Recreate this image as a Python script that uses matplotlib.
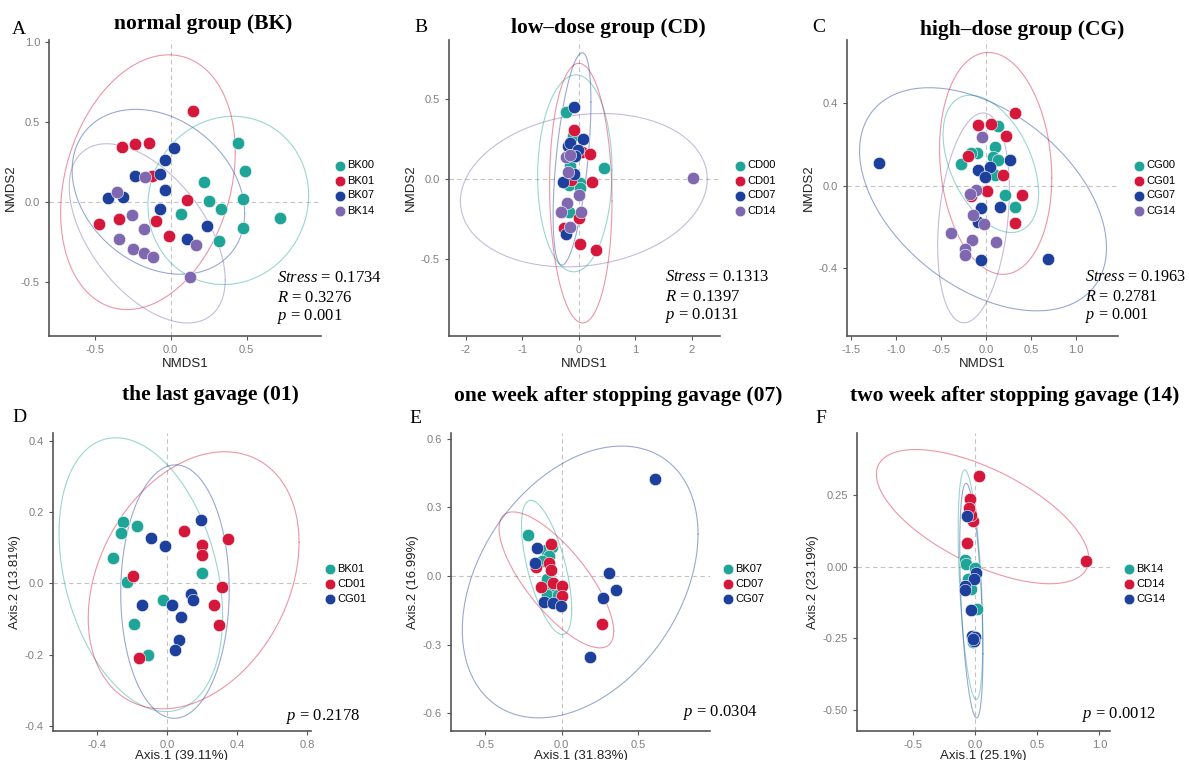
import numpy as np
import matplotlib
matplotlib.use("Agg")
import matplotlib.pyplot as plt

plt.rcParams['font.family'] = ['Liberation Sans', 'DejaVu Sans']
plt.rcParams['mathtext.fontset'] = 'custom'
plt.rcParams['mathtext.rm'] = 'Liberation Serif'
plt.rcParams['mathtext.it'] = 'Liberation Serif:italic'

# ---- colours ----
TEAL = '#1fa598'
RED = '#d5173b'
BLUE = '#1c409b'
PURPLE = '#8068b1'

# ---- A: normal group (BK), NMDS ----
a_bk00 = [(0.445, 0.369), (0.493, 0.191), (0.217, 0.124), (0.254, 0.002), (0.476, 0.017),
          (0.333, -0.046), (0.068, -0.075), (0.478, -0.162), (0.717, -0.102), (0.316, -0.245)]
a_bk01 = [(0.145, 0.564), (-0.320, 0.342), (-0.235, 0.357), (-0.145, 0.367), (-0.121, 0.162),
          (0.105, 0.010), (-0.338, -0.110), (-0.096, -0.122), (-0.471, -0.141), (-0.013, -0.216)]
a_bk07 = [(0.024, 0.332), (-0.037, 0.257), (-0.237, 0.162), (-0.068, 0.172), (-0.039, 0.071),
          (-0.412, 0.023), (-0.311, 0.027), (-0.070, -0.048), (0.241, -0.151), (0.107, -0.234)]
a_bk14 = [(-0.169, 0.151), (-0.353, 0.062), (-0.252, -0.085), (-0.178, -0.170), (-0.340, -0.234),
          (-0.248, -0.295), (-0.178, -0.322), (-0.116, -0.344), (0.167, -0.274), (0.129, -0.473)]

# ---- B: low-dose group (CD), NMDS ----
b_cd00 = [(-0.224, 0.422), (-0.112, 0.271), (0.454, 0.067), (-0.165, 0.084), (-0.183, -0.038),
          (0.024, -0.027), (0.012, -0.054), (-0.271, -0.200), (-0.177, -0.209)]
b_cd01 = [(-0.083, 0.309), (0.053, 0.167), (0.189, 0.154), (0.230, -0.021), (-0.136, -0.006),
          (0.006, -0.246), (-0.271, -0.305), (0.012, -0.407), (0.307, -0.443)]
b_cd07 = [(-0.083, 0.453), (0.065, 0.248), (-0.201, 0.209), (-0.165, 0.228), (-0.012, 0.182),
          (-0.077, 0.144), (-0.089, 0.033), (-0.289, -0.021), (-0.236, -0.347)]
b_cd14 = [(-0.236, 0.136), (-0.150, 0.150), (-0.189, 0.042), (0.000, -0.100), (-0.212, -0.148),
          (-0.319, -0.205), (0.035, -0.209), (-0.153, -0.301), (2.018, 0.004)]

# ---- C: high-dose group (CG), NMDS ----
c_cg00 = [(0.134, 0.289), (0.097, 0.186), (-0.097, 0.160), (-0.171, 0.157), (-0.283, 0.103),
          (0.082, 0.137), (0.134, 0.124), (0.104, 0.050), (0.208, -0.045), (0.320, -0.105)]
c_cg01 = [(0.320, 0.354), (-0.089, 0.294), (0.059, 0.299), (0.219, 0.242), (-0.201, 0.145),
          (0.186, 0.050), (0.015, -0.026), (-0.164, -0.050), (0.401, -0.047), (0.320, -0.183)]
c_cg07 = [(0.268, 0.124), (-0.089, 0.076), (0.041, 0.092), (-0.007, 0.040), (-0.059, -0.110),
          (0.152, -0.102), (-0.089, -0.176), (-0.059, -0.360), (-1.190, 0.110), (0.691, -0.356)]
c_cg14 = [(-0.041, 0.238), (-0.112, -0.021), (-0.182, -0.042), (-0.145, -0.142), (-0.022, -0.186),
          (-0.387, -0.231), (-0.156, -0.263), (0.112, -0.272), (-0.230, -0.309), (-0.238, -0.335)]

# ---- D: the last gavage (01), PCoA ----
d_bk01 = [(-0.253, 0.173), (-0.171, 0.161), (-0.263, 0.141), (-0.310, 0.072), (-0.227, 0.004),
          (0.198, 0.030), (-0.023, -0.046), (-0.187, -0.113), (-0.107, -0.201)]
d_cd01 = [(0.095, 0.146), (0.350, 0.124), (0.202, 0.108), (0.198, 0.080), (-0.196, 0.020),
          (0.312, -0.011), (0.270, -0.061), (0.299, -0.117), (-0.158, -0.210)]
d_cg01 = [(0.196, 0.177), (-0.093, 0.127), (-0.011, 0.106), (0.137, -0.029), (0.149, -0.047),
          (0.030, -0.061), (-0.143, -0.061), (0.080, -0.095), (0.067, -0.158), (0.046, -0.187)]

# ---- E: one week after stopping gavage (07), PCoA ----
e_bk07 = [(-0.223, 0.178), (-0.103, 0.114), (-0.066, 0.128), (-0.081, 0.088), (-0.131, 0.066),
          (-0.096, -0.013), (-0.066, -0.056), (-0.096, -0.082), (-0.026, -0.082)]
e_cd07 = [(-0.068, 0.142), (-0.083, 0.059), (-0.072, 0.025), (-0.168, 0.038), (-0.059, -0.030),
          (0.004, -0.043), (-0.135, -0.048), (0.004, -0.085), (0.266, -0.209)]
e_cg07 = [(0.611, 0.422), (-0.162, 0.123), (-0.177, 0.058), (0.310, 0.013), (0.356, -0.062),
          (0.269, -0.095), (-0.116, -0.114), (-0.057, -0.117), (-0.007, -0.133), (0.186, -0.354)]

# ---- F: two week after stopping gavage (14), PCoA (some points hidden under others) ----
f_bk14 = [(-0.043, 0.199), (-0.078, 0.025), (-0.070, 0.010), (-0.003, -0.003), (-0.056, -0.044),
          (-0.035, -0.079), (0.016, -0.148), (-0.016, -0.264), (-0.083, -0.067), (-0.010, -0.255)]
f_cd14 = [(0.027, 0.317), (-0.038, 0.236), (-0.040, 0.190), (-0.030, 0.170), (-0.016, 0.159),
          (-0.065, 0.083), (0.892, 0.020), (-0.045, 0.195), (-0.035, 0.180), (-0.050, 0.205)]
f_cg14 = [(-0.062, 0.179), (0.003, -0.021), (-0.008, -0.041), (-0.078, -0.067), (-0.083, -0.082),
          (-0.035, -0.150), (-0.022, -0.241), (-0.003, -0.247), (-0.008, -0.258), (-0.015, -0.252)]


def ellipse(pts, level=0.95):
    # stat_ellipse(type = "norm"): sample covariance, radius sqrt(2 * qf(level, 2, n - 1))
    xy = np.array(pts)
    m = len(xy) - 1
    q = m / 2 * ((1 - level) ** (-2 / m) - 1)
    r = np.sqrt(2 * q)
    loc = xy.mean(0)
    cov = np.cov(xy.T)
    L = np.linalg.cholesky(cov)
    t = np.linspace(0, 2 * np.pi, 200)
    circ = np.column_stack([np.cos(t), np.sin(t)])
    e = loc + r * circ @ L.T
    return e[:, 0], e[:, 1]


fig = plt.figure(figsize=(11.89, 7.6), dpi=100)
W, H = 1189, 760


def add_axes(l, t, r, b):
    return fig.add_axes([l / W, 1 - b / H, (r - l) / W, (b - t) / H])


def panel(ax, groups, labels, colors, xlim, ylim, xticks, xtl, yticks, ytl,
          xlabel, ylabel, leg_xy, xpad=2):
    ax.axhline(0, color='#c4c4c4', ls=(0, (4, 3)), lw=0.8, zorder=1)
    ax.axvline(0, color='#c4c4c4', ls=(0, (4, 3)), lw=0.8, zorder=1)
    for pts, lab, c in zip(groups, labels, colors):
        ex, ey = ellipse(pts)
        ax.plot(ex, ey, color=c, lw=0.8, alpha=0.45, zorder=2)
    for pts, lab, c in zip(groups, labels, colors):
        xy = np.array(pts)
        ax.scatter(xy[:, 0], xy[:, 1], s=80, color=c, edgecolors='white',
                   linewidths=0.4, zorder=3, label=lab)
    ax.set_xlim(xlim)
    ax.set_ylim(ylim)
    ax.set_xticks(xticks)
    ax.set_xticklabels(xtl)
    ax.set_yticks(yticks)
    ax.set_yticklabels(ytl)
    for s in ['top', 'right']:
        ax.spines[s].set_visible(False)
    for s in ['left', 'bottom']:
        ax.spines[s].set_color('#555555')
        ax.spines[s].set_linewidth(1.2)
    ax.tick_params(colors='#555555', labelcolor='#808080', labelsize=8, length=3, width=0.8)
    ax.set_xlabel(xlabel, fontsize=9.5, color='#222222', labelpad=xpad)
    ax.set_ylabel(ylabel, fontsize=9.5, color='#222222', labelpad=3)
    ax.legend(loc='center left', bbox_to_anchor=(leg_xy[0] / W, 1 - leg_xy[1] / H),
              bbox_transform=fig.transFigure, frameon=False, fontsize=8,
              handletextpad=0.1, labelspacing=0.45, borderpad=0, borderaxespad=0,
              handlelength=1.2, markerscale=0.85)


def stats(lines, x, y0, dy=19.5, size=12):
    for i, s in enumerate(lines):
        fig.text(x / W, 1 - (y0 + i * dy) / H, s, fontsize=size, family='Liberation Serif',
                 va='center', ha='left')


def title(s, x, y):
    fig.text(x / W, 1 - y / H, s, fontsize=15.5, family='Liberation Serif',
             weight='bold', ha='center', va='center')


def letter(s, x, y):
    fig.text(x / W, 1 - y / H, s, fontsize=14, family='Liberation Serif',
             ha='left', va='center')


cols4 = [TEAL, RED, BLUE, PURPLE]
cols3 = [TEAL, RED, BLUE]

axA = add_axes(49, 40, 321, 336)
panel(axA, [a_bk00, a_bk01, a_bk07, a_bk14], ['BK00', 'BK01', 'BK07', 'BK14'], cols4,
      (-0.80, 0.99), (-0.84, 1.01), [-0.5, 0, 0.5], ['-0.5', '0.0', '0.5'],
      [-0.5, 0, 0.5, 1.0], ['-0.5', '0.0', '0.5', '1.0'], 'NMDS1', 'NMDS2', (333, 188))
axB = add_axes(449, 40, 720, 336)
panel(axB, [b_cd00, b_cd01, b_cd07, b_cd14], ['CD00', 'CD01', 'CD07', 'CD14'], cols4,
      (-2.30, 2.50), (-0.983, 0.87), [-2, -1, 0, 1, 2], ['-2', '-1', '0', '1', '2'],
      [-0.5, 0, 0.5], ['-0.5', '0.0', '0.5'], 'NMDS1', 'NMDS2', (733, 188))
axC = add_axes(847, 40, 1118, 336)
panel(axC, [c_cg00, c_cg01, c_cg07, c_cg14], ['CG00', 'CG01', 'CG07', 'CG14'], cols4,
      (-1.55, 1.47), (-0.729, 0.706), [-1.5, -1.0, -0.5, 0, 0.5, 1.0],
      ['-1.5', '-1.0', '-0.5', '0.0', '0.5', '1.0'],
      [-0.4, 0, 0.4], ['-0.4', '0.0', '0.4'], 'NMDS1', 'NMDS2', (1132, 188))
axD = add_axes(53, 433, 311, 731)
panel(axD, [d_bk01, d_cd01, d_cg01], ['BK01', 'CD01', 'CG01'], cols3,
      (-0.651, 0.823), (-0.413, 0.421), [-0.4, 0, 0.4, 0.8], ['-0.4', '0.0', '0.4', '0.8'],
      [-0.4, -0.2, 0, 0.2, 0.4], ['-0.4', '-0.2', '0.0', '0.2', '0.4'],
      'Axis.1 (39.11%)', 'Axis.2 (13.81%)', (323, 584), xpad=0)
axE = add_axes(451, 433, 710, 731)
panel(axE, [e_bk07, e_cd07, e_cg07], ['BK07', 'CD07', 'CG07'], cols3,
      (-0.725, 0.972), (-0.677, 0.625), [-0.5, 0, 0.5], ['-0.5', '0.0', '0.5'],
      [-0.6, -0.3, 0, 0.3, 0.6], ['-0.6', '-0.3', '0.0', '0.3', '0.6'],
      'Axis.1 (31.83%)', 'Axis.2 (16.99%)', (721, 584), xpad=0)
axF = add_axes(857, 433, 1110, 731)
panel(axF, [f_bk14, f_cd14, f_cg14], ['BK14', 'CD14', 'CG14'], cols3,
      (-0.952, 1.086), (-0.574, 0.468), [-0.5, 0, 0.5, 1.0], ['-0.5', '0.0', '0.5', '1.0'],
      [-0.5, -0.25, 0, 0.25], ['-0.50', '-0.25', '0.00', '0.25'],
      'Axis.1 (25.1%)', 'Axis.2 (23.19%)', (1122, 584), xpad=0)

title('normal group (BK)', 203, 24)
title('low\u2013dose group (CD)', 608, 28)
title('high\u2013dose group (CG)', 1022, 30)
title('the last gavage (01)', 210, 395)
title('one week after stopping gavage (07)', 618, 396)
title('two week after stopping gavage (14)', 1015, 396)

letter('A', 12, 29)
letter('B', 414, 27)
letter('C', 812, 27)
letter('D', 12, 417)
letter('E', 409, 418)
letter('F', 815, 418)

stats([r'$\mathit{Stress}$ = 0.1734', r'$\mathit{R}$ = 0.3276', r'$\mathit{p}$ = 0.001'], 277, 278)
stats([r'$\mathit{Stress}$ = 0.1313', r'$\mathit{R}$ = 0.1397', r'$\mathit{p}$ = 0.0131'], 665, 277)
stats([r'$\mathit{Stress}$ = 0.1963', r'$\mathit{R}$ = 0.2781', r'$\mathit{p}$ = 0.001'], 1085, 277,
      size=11.6)
stats([r'$\mathit{p}$ = 0.2178'], 286, 716)
stats([r'$\mathit{p}$ = 0.0304'], 683, 713)
stats([r'$\mathit{p}$ = 0.0012'], 1082, 714)

fig.savefig('out.png', dpi=100)
